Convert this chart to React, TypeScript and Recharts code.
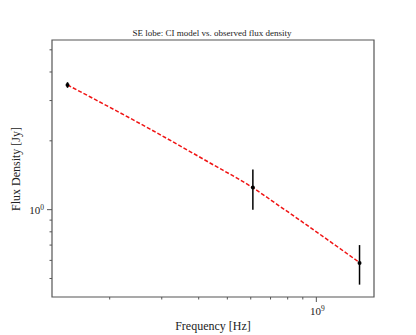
import React from 'react';
import {
  ComposedChart,
  Line,
  Scatter,
  ErrorBar,
  XAxis,
  YAxis,
  ReferenceArea,
} from 'recharts';

// observed flux densities (Hz, Jy)
const obsFreq = [1.44e8, 6.1e8, 1.4e9];
const obsFlux = [3.51, 1.25, 0.585];
const obsErr = [0.1, 0.25, 0.115];

// CI model curve
const modelFreq = [1.44e8, 1.72e8, 2.74e8, 4.37e8, 6.08e8, 7.48e8, 8.81e8, 1.4e9];
const modelFlux = [3.51, 3.11, 2.25, 1.6, 1.25, 1.04, 0.898, 0.587];

const xTicks = [2e8, 3e8, 4e8, 5e8, 6e8, 7e8, 8e8, 9e8, 1e9];
const yTicks = [0.5, 0.6, 0.7, 0.8, 0.9, 1, 2, 3, 4, 5];

const xDomain: [number, number] = [1.276e8, 1.567e9];
const yDomain: [number, number] = [0.415, 5.52];

const obsData = obsFreq.map((f, i) => ({ freq: f, flux: obsFlux[i], err: obsErr[i] }));
const modelData = modelFreq.map((f, i) => ({ freq: f, flux: modelFlux[i] }));

const axisColor = '#555';
const textColor = '#222';
const font = '"Liberation Serif", "DejaVu Serif", serif';

const XTick = (props: any) => {
  const { x, y, payload } = props;
  const major = payload.value === 1e9;
  return (
    <g>
      <line x1={x} x2={x} y1={y} y2={y + (major ? 5 : 2.5)} stroke={axisColor} strokeWidth={1} />
      {major && (
        <text x={x + 1} y={y + 18} textAnchor="middle" fill={textColor} fontFamily={font} fontSize={11}>
          <tspan>10</tspan>
          <tspan dy={-4} fontSize={7.5}>9</tspan>
        </text>
      )}
    </g>
  );
};

const YTick = (props: any) => {
  const { x, y, payload } = props;
  const major = payload.value === 1;
  return (
    <g>
      <line x1={x} x2={x - (major ? 5 : 2.5)} y1={y} y2={y} stroke={axisColor} strokeWidth={1} />
      {major && (
        <text x={x - 8} y={y + 4} textAnchor="end" fill={textColor} fontFamily={font} fontSize={11}>
          <tspan>10</tspan>
          <tspan dy={-4} fontSize={7.5}>0</tspan>
        </text>
      )}
    </g>
  );
};

const Dot = (props: any) => {
  const { cx, cy } = props;
  return <circle cx={cx} cy={cy} r={2} fill="#000" />;
};

export default function App() {
  return (
    <div style={{ position: 'absolute', left: 0, top: 0, width: 416, height: 335, background: '#fff' }}>
      <ComposedChart
        width={416}
        height={335}
        margin={{ top: 40, right: 42, bottom: 8, left: 12 }}
      >
        <XAxis
          dataKey="freq"
          type="number"
          scale="log"
          domain={xDomain}
          allowDataOverflow
          ticks={xTicks}
          tick={<XTick />}
          tickLine={false}
          tickSize={0}
          tickMargin={0}
          height={30}
          axisLine={false}
          interval={0}
        />
        <YAxis
          dataKey="flux"
          type="number"
          scale="log"
          domain={yDomain}
          allowDataOverflow
          ticks={yTicks}
          tick={<YTick />}
          tickLine={false}
          tickSize={0}
          tickMargin={0}
          width={40}
          axisLine={false}
          interval={0}
        />
        <ReferenceArea
          x1={xDomain[0]}
          x2={xDomain[1]}
          y1={yDomain[0]}
          y2={yDomain[1]}
          fill="none"
          stroke={axisColor}
          strokeWidth={1.2}
          ifOverflow="visible"
        />
        <Line
          data={modelData}
          dataKey="flux"
          type="monotone"
          stroke="#f01414"
          strokeWidth={1.5}
          strokeDasharray="4 2"
          dot={false}
          activeDot={false}
          isAnimationActive={false}
        />
        <Scatter data={obsData} dataKey="flux" shape={<Dot />} isAnimationActive={false}>
          <ErrorBar dataKey="err" direction="y" width={0} stroke="#000" strokeWidth={1.5} />
        </Scatter>
      </ComposedChart>
      <svg width={416} height={335} style={{ position: 'absolute', left: 0, top: 0, pointerEvents: 'none' }}>
        <text x={212} y={35.5} textAnchor="middle" fill={textColor} fontFamily={font} fontSize={9}>
          SE lobe: CI model vs. observed flux density
        </text>
        <text x={213} y={330} textAnchor="middle" fill={textColor} fontFamily={font} fontSize={12}>
          Frequency [Hz]
        </text>
        <text
          x={0}
          y={0}
          transform="translate(20,169) rotate(-90)"
          textAnchor="middle"
          fill={textColor}
          fontFamily={font}
          fontSize={12}
        >
          Flux Density [Jy]
        </text>
      </svg>
    </div>
  );
}
